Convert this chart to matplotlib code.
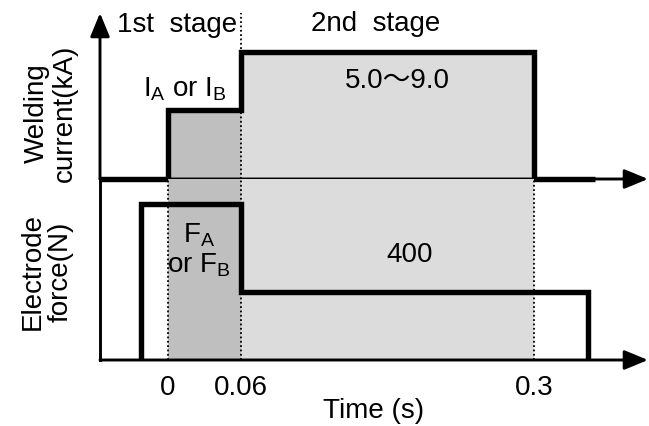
import matplotlib
matplotlib.use("Agg")
import matplotlib.pyplot as plt

plt.rcParams["font.family"] = ["Liberation Sans", "Noto Sans CJK JP", "DejaVu Sans"]
plt.rcParams["mathtext.fontset"] = "custom"
plt.rcParams["mathtext.rm"] = "Liberation Sans"
plt.rcParams["mathtext.it"] = "Liberation Sans"

# Welding schedule (schematic)
stage_bounds = [0.0, 0.06, 0.3]          # s: start of 1st stage, start of 2nd, end of 2nd
current_levels = [3.8, 7.0]              # kA: 1st stage (I_A / I_B), 2nd stage (5.0~9.0)
current_tail_end = 0.35                  # s
force_levels = [920, 400]                # N: 1st stage (F_A / F_B), 2nd stage
force_on_off = [-0.0225, 0.344]          # s: electrode closes / opens
tick_values = [0, 0.06, 0.3]
tick_labels = ["0", "0.06", "0.3"]

W, H = 649, 426
fig = plt.figure(figsize=(W / 100, H / 100), dpi=100)

def ax_rect(left, top, right, bottom):
    return [left / W, 1 - bottom / H, (right - left) / W, (bottom - top) / H]

ax_i = fig.add_axes(ax_rect(100, 13, 648, 179))
ax_f = fig.add_axes(ax_rect(100, 179, 648, 360), sharex=ax_i)

xmin, xmax = -0.0557, 0.3934
ax_i.set_xlim(xmin, xmax)
ax_i.set_ylim(0, 9.15)
ax_f.set_ylim(0, 1065)

dark, light = "#bfbfbf", "#dcdcdc"
t0, t1, t2 = stage_bounds
I1, I2 = current_levels
F1, F2 = force_levels
fon, foff = force_on_off

for ax in (ax_i, ax_f):
    ax.set_facecolor("none")
    for s in ax.spines.values():
        s.set_visible(False)
    ax.tick_params(left=False, labelleft=False, bottom=False, labelbottom=False)

# shaded stage areas
ax_i.fill_between([t0, t1], 0, I1, color=dark, lw=0, zorder=1)
ax_i.fill_between([t1, t2], 0, I2, color=light, lw=0, zorder=1)
ax_f.axvspan(t0, t1, color=dark, lw=0, zorder=1)
ax_f.axvspan(t1, t2, color=light, lw=0, zorder=1)

# stage separators
dot = dict(color="black", lw=1.3, linestyle=(0, (1, 1.4)), zorder=2)
ax_i.axvline(t1, ymin=0, ymax=1.0, **dot)
for t in stage_bounds:
    ax_f.axvline(t, **dot)

# welding current and electrode force
step = dict(color="black", lw=3.9, solid_joinstyle="miter", solid_capstyle="butt",
            clip_on=False, zorder=4)
ax_i.plot([xmin, t0, t0, t1, t1, t2, t2, current_tail_end],
          [0, 0, I1, I1, I2, I2, 0, 0], **step)
ax_f.plot([fon, fon, t1, t1, foff, foff],
          [0, F1, F1, F2, F2, 0], **step)

# axes with arrow heads
axis_lw = 2.1
arrow = dict(arrowstyle="-|>,head_length=0.8,head_width=0.33", mutation_scale=18,
             color="black", lw=axis_lw, shrinkA=0, shrinkB=0)
ax_i.annotate("", xy=(0, 1), xytext=(0, 0), xycoords="axes fraction",
              arrowprops=arrow, zorder=5)
ax_i.annotate("", xy=(1, 0), xytext=(0, 0), xycoords="axes fraction",
              arrowprops=arrow, zorder=5)
ax_f.annotate("", xy=(1, 0), xytext=(0, 0), xycoords="axes fraction",
              arrowprops=arrow, zorder=5)
ax_f.spines["left"].set_visible(True)
ax_f.spines["left"].set_linewidth(axis_lw)

fs = 20
ax_f.set_xticks(tick_values)
ax_f.set_xticklabels(tick_labels)
ax_f.tick_params(bottom=False, labelbottom=True, labelsize=fs, pad=7)
ax_f.set_xlabel("Time (s)", fontsize=fs, labelpad=-2)

fig.text(51 / W, 1 - 113 / H, "Welding\ncurrent(kA)", rotation=90, fontsize=fs,
         ha="center", va="center", multialignment="center", linespacing=1.1)
fig.text(47 / W, 1 - 272 / H, "Electrode\nforce(N)", rotation=90, fontsize=fs,
         ha="center", va="center", multialignment="center", linespacing=1.1)

ax_i.text(0.0074, 8.5, "1st  stage", fontsize=fs, ha="center", va="center", zorder=6)
ax_i.text(0.170, 8.55, "2nd  stage", fontsize=fs, ha="center", va="center", zorder=6)
ax_i.text(0.014, 4.96, r"$\mathregular{I_A}$ or $\mathregular{I_B}$", fontsize=fs,
          ha="center", va="center", zorder=6)
ax_i.text(0.188, 5.4, "5.0～9.0", fontsize=fs, ha="center", va="center", zorder=6)
ax_f.text(0.0254, 647, "$\\mathregular{F_A}$\nor $\\mathregular{F_B}$", fontsize=fs,
          ha="center", va="center", multialignment="center", linespacing=1.1, zorder=6)
ax_f.text(0.198, 618, "400", fontsize=fs, ha="center", va="center", zorder=6)

fig.savefig("out.png", dpi=100)
